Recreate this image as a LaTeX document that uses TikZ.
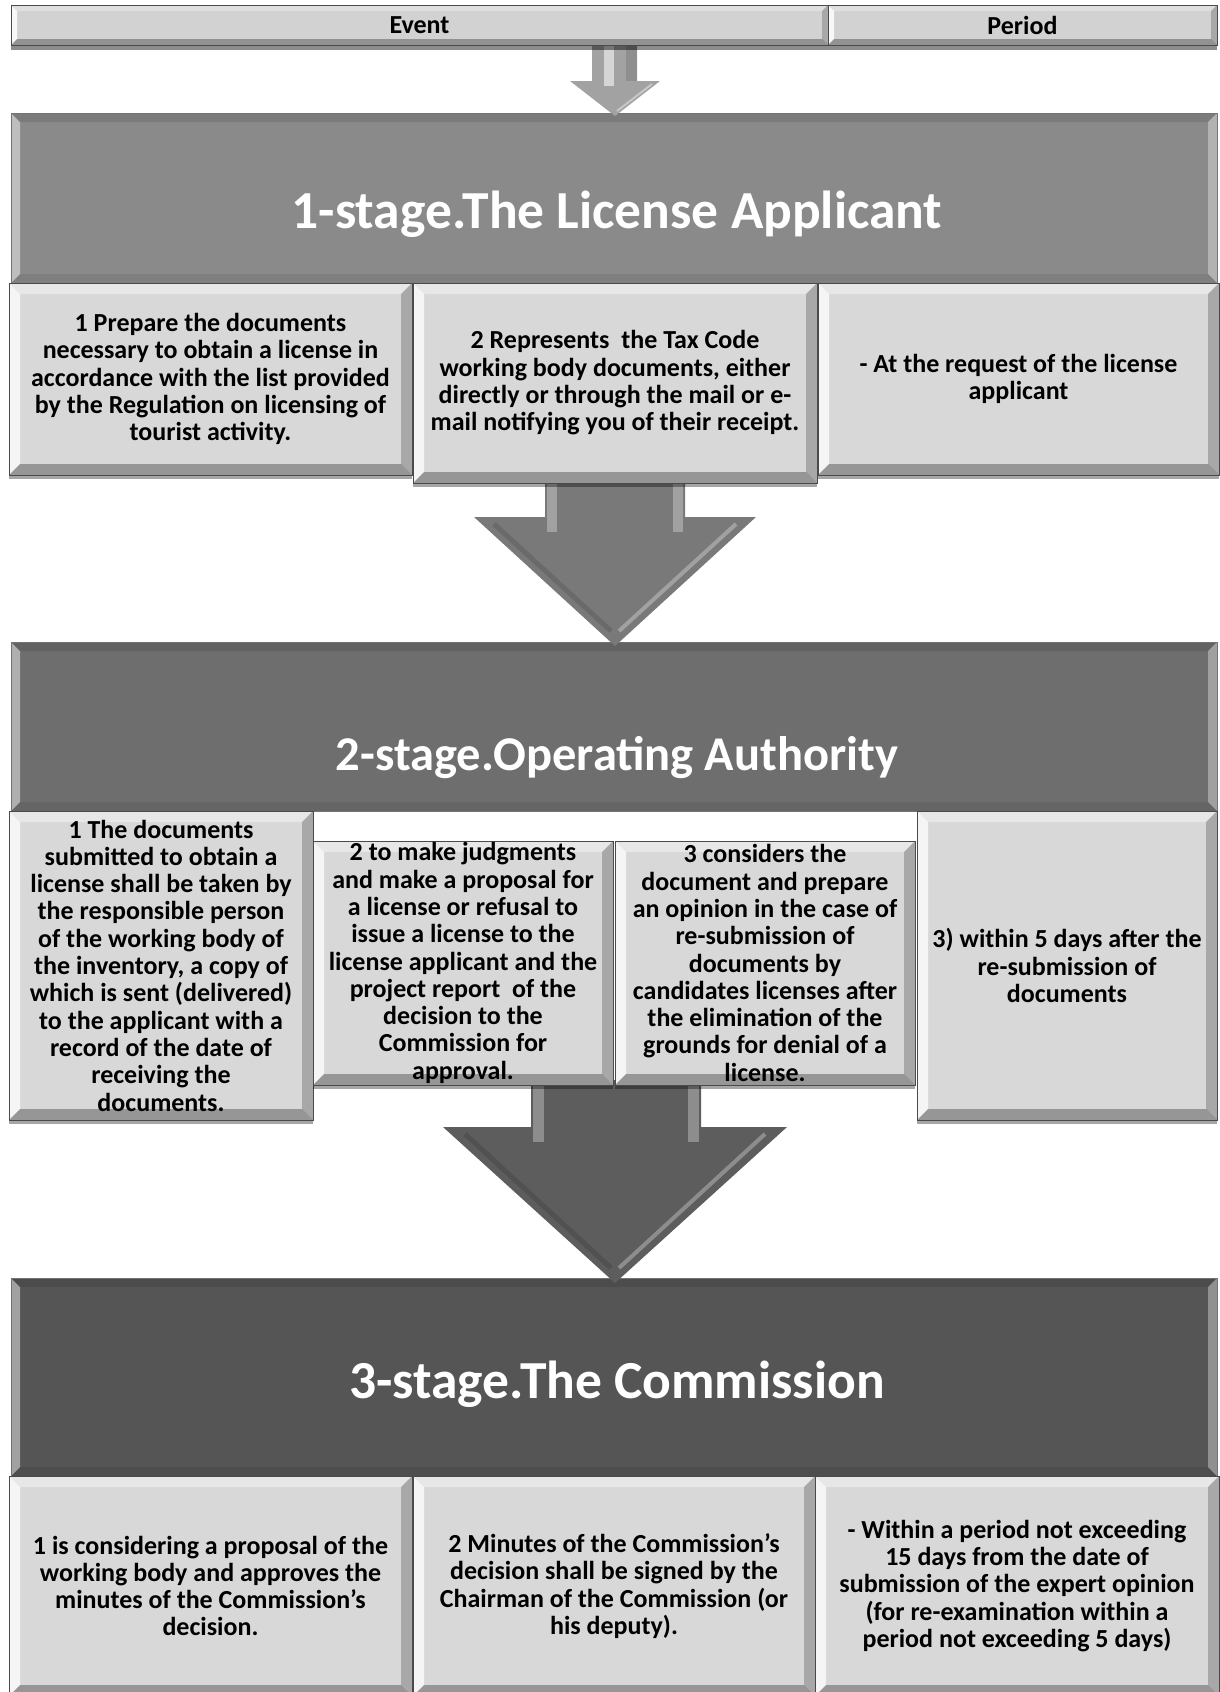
\documentclass[tikz,border=0pt]{standalone}
\usepackage{fontspec}
\setmainfont{Carlito}
\usetikzlibrary{shadows}
\definecolor{boxgray}{HTML}{D8D8D8}
\definecolor{headgray}{HTML}{D2D2D2}
\definecolor{stageA}{HTML}{8A8A8A}
\definecolor{stageB}{HTML}{6E6E6E}
\definecolor{stageC}{HTML}{555555}
\definecolor{arrowA}{HTML}{797979}
\definecolor{arrowB}{HTML}{5D5D5D}
\definecolor{arrowS}{HTML}{A2A2A2}
\definecolor{edgegray}{HTML}{4A4A4A}
\newcommand{\bodyfont}{\fontsize{26}{27.3}\selectfont\bfseries}
\newcommand{\titlefont}{\fontsize{53.5}{58}\selectfont\bfseries}
\newcommand{\titlefontB}{\fontsize{48.5}{58}\selectfont\bfseries}
\newcommand{\headfont}{\fontsize{26}{28}\selectfont\bfseries}
\newcommand{\bevelpaint}[5]{%
 \fill[#2] (path picture bounding box.north west) -- ([xshift=#1,yshift=-#1]path picture bounding box.north west) -- ([xshift=#1,yshift=#1]path picture bounding box.south west) -- (path picture bounding box.south west) -- cycle;
 \fill[#3] (path picture bounding box.north west) -- (path picture bounding box.north east) -- ([xshift=-#1,yshift=-#1]path picture bounding box.north east) -- ([xshift=#1,yshift=-#1]path picture bounding box.north west) -- cycle;
 \fill[#4] (path picture bounding box.north east) -- (path picture bounding box.south east) -- ([xshift=-#1,yshift=#1]path picture bounding box.south east) -- ([xshift=-#1,yshift=-#1]path picture bounding box.north east) -- cycle;
 \fill[#5] (path picture bounding box.south west) -- (path picture bounding box.south east) -- ([xshift=-#1,yshift=#1]path picture bounding box.south east) -- ([xshift=#1,yshift=#1]path picture bounding box.south west) -- cycle;
}
\tikzset{
 cell/.style={draw=edgegray, line width=0.7pt, fill=boxgray, inner sep=0pt, align=center,
   font=\bodyfont, text=black,
   drop shadow={shadow xshift=0pt, shadow yshift=-4pt, opacity=.35, fill=black},
   path picture={\bevelpaint{11pt}{white,opacity=.75}{white,opacity=.4}{black,opacity=.22}{black,opacity=.3}}},
 headcell/.style={draw=edgegray, line width=0.7pt, fill=headgray, inner sep=0pt, align=center,
   font=\headfont, text=black,
   drop shadow={shadow xshift=0pt, shadow yshift=-5pt, opacity=.45, fill=black},
   path picture={\bevelpaint{6pt}{white,opacity=.85}{white,opacity=.3}{black,opacity=.2}{black,opacity=.3}}},
 stagebar/.style={draw=black!55, line width=0.5pt, inner sep=0pt,
   path picture={\bevelpaint{9pt}{white,opacity=.45}{black,opacity=.1}{white,opacity=.35}{black,opacity=.08}}},
 stagetitle/.style={font=\titlefont, text=white, inner sep=0pt},
 shafthl/.style={white, opacity=.3},
}
\begin{document}
\begin{tikzpicture}[x=1pt,y=-1pt]
\useasboundingbox (0,0) rectangle (1219,1692);
\fill[white] (0,0) rectangle (1219,1692);

% stage bars
\node[stagebar, fill=stageA, minimum width=1206pt, minimum height=170pt] (bar1) at (614,198) {};
\node[stagebar, fill=stageB, minimum width=1206pt, minimum height=169pt] (bar2) at (614,726.5) {};
\node[stagebar, fill=stageC, minimum width=1206pt, minimum height=198pt] (bar3) at (614,1377) {};
\node[stagetitle] (t1) at (617,214) {1-stage.The License Applicant};
\node[stagetitle, font=\titlefontB] (t2) at (617,758) {2-stage.Operating Authority};
\node[stagetitle] (t3) at (617,1384) {3-stage.The Commission};

% small arrow
\fill[arrowS] (592,40) -- (637,40) -- (637,81) -- (660,81) -- (615,116) -- (570,81) -- (592,81) -- cycle;
\fill[white,opacity=.55] (604,40) rectangle (614,86);
\fill[black,opacity=.12] (626,40) rectangle (637,81);
\draw[white,opacity=.4,line width=2pt] (652,84) -- (617,111);

% arrow 1
\fill[arrowA] (545,470) -- (685,470) -- (685,517) -- (756,517) -- (615,646) -- (474,517) -- (545,517) -- cycle;
\fill[shafthl] (547,470) rectangle (557,532);
\fill[shafthl] (673,470) rectangle (683,532);
\draw[white,opacity=.3,line width=4pt] (736,524) -- (619,631);
\draw[black,opacity=.12,line width=5pt] (494,524) -- (611,631);

% arrow 2
\fill[arrowB] (531,1080) -- (701,1080) -- (701,1127) -- (787,1127) -- (615,1283) -- (443,1127) -- (531,1127) -- cycle;
\fill[shafthl] (533,1080) rectangle (544,1142);
\fill[shafthl] (688,1080) rectangle (699,1142);
\draw[white,opacity=.3,line width=4pt] (765,1134) -- (619,1268);
\draw[black,opacity=.12,line width=5pt] (465,1134) -- (611,1268);

% header
\node[headcell, minimum width=817pt, minimum height=40pt] (ev) at (419.5,25) {Event};
\node[headcell, minimum width=389pt, minimum height=40pt] (pe) at (1022.5,25) {Period};

% stage 1 boxes
\node[cell, minimum width=403pt, minimum height=192pt] (a1) at (210.5,379)
 {1 Prepare the documents\\necessary to obtain a license in\\accordance with the list provided\\by the Regulation on licensing of\\tourist activity.};
\node[cell, minimum width=404pt, minimum height=200pt] (a2) at (615,383)
 {2 Represents \ the Tax Code\\working body documents, either\\directly or through the mail or e-\\mail notifying you of their receipt.};
\node[cell, minimum width=401pt, minimum height=192pt] (a3) at (1018.5,379)
 {- At the request of the license\\applicant};

% stage 2 boxes
\node[cell, minimum width=304pt, minimum height=309pt] (b1) at (161,965.5)
 {1 The documents\\submitted to obtain a\\license shall be taken by\\the responsible person\\of the working body of\\the inventory, a copy of\\which is sent (delivered)\\to the applicant with a\\record of the date of\\receiving the\\documents.};
\node[cell, minimum width=300pt, minimum height=244pt] (b2) at (463,963)
 {2 to make judgments\\and make a proposal for\\a license or refusal to\\issue a license to the\\license applicant and the\\project report \ of the\\decision to the\\Commission for\\approval.};
\node[cell, minimum width=300pt, minimum height=244pt] (b3) at (765,963)
 {3 considers the\\document and prepare\\an opinion in the case of\\re-submission of\\documents by\\candidates licenses after\\the elimination of the\\grounds for denial of a\\license.};
\node[cell, minimum width=300pt, minimum height=309pt] (b4) at (1067,965.5)
 {3) within 5 days after the\\re-submission of\\documents};

% stage 3 boxes
\node[cell, minimum width=403pt, minimum height=220pt] (c1) at (210.5,1586)
 {1 is considering a proposal of the\\working body and approves the\\minutes of the Commission's\\decision.};
\node[cell, minimum width=402pt, minimum height=220pt] (c2) at (614,1586)
 {2 Minutes of the Commission's\\decision shall be signed by the\\Chairman of the Commission (or\\his deputy).};
\node[cell, minimum width=404pt, minimum height=220pt] (c3) at (1017,1586)
 {- Within a period not exceeding\\15 days from the date of\\submission of the expert opinion\\(for re-examination within a\\period not exceeding 5 days)};
\end{tikzpicture}
\end{document}
